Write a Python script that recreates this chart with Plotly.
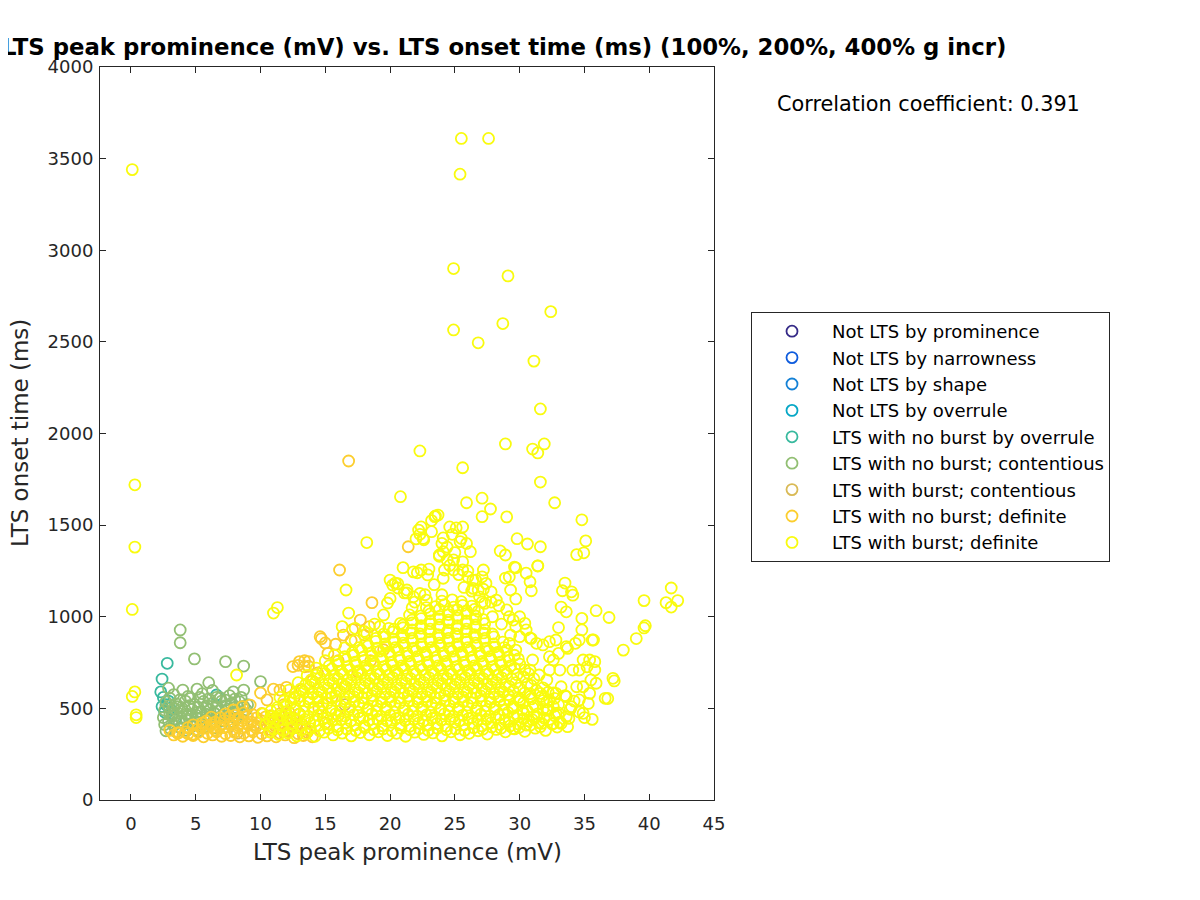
import plotly.graph_objects as go

# ---------------- data ----------------
series_names = [
    "Not LTS by prominence",
    "Not LTS by narrowness",
    "Not LTS by shape",
    "Not LTS by overrule",
    "LTS with no burst by overrule",
    "LTS with no burst; contentious",
    "LTS with burst; contentious",
    "LTS with no burst; definite",
    "LTS with burst; definite",
]
series_colors = ["#352a87", "#0f5cdd", "#1481d6", "#06a7c6", "#38b99e",
                 "#92bf73", "#d9ba56", "#fcce2e", "#f9fb0e"]

not_lts_prominence = []
not_lts_narrowness = []
not_lts_shape = []
not_lts_overrule = []

nb_overrule = [(2.8, 746), (2.4, 660), (2.5, 560), (2.7, 520), (3.0, 500), (2.6, 480),
               (3.2, 470), (2.9, 540), (6.6, 573), (3.4, 440), (2.4, 510), (2.3, 590)]

nb_contentious = [
    (3.8, 928), (3.8, 858), (4.9, 770), (7.3, 755), (8.7, 731), (10.0, 646), (5.1, 605),
    (6.3, 598), (7.9, 590), (8.7, 600), (6.0, 640), (4.0, 600), (2.9, 610),
    (3.3, 575), (4.4, 565), (5.5, 580), (6.6, 560), (7.6, 570), (8.5, 560),
    (2.7, 535), (3.5, 525), (4.2, 540), (4.9, 522), (5.6, 538), (6.3, 528), (7.0, 540),
    (7.7, 525), (8.4, 535), (9.0, 520),
    (2.6, 490), (3.3, 498), (4.0, 485), (4.7, 495), (5.4, 482), (6.1, 492), (6.8, 488),
    (7.5, 496), (8.2, 484), (8.9, 492),
    (2.5, 450), (3.2, 458), (3.9, 445), (4.6, 455), (5.3, 442), (6.0, 452), (6.7, 446),
    (7.4, 456), (8.1, 444),
    (2.6, 412), (3.3, 405), (4.0, 418), (4.7, 402), (5.4, 414), (6.1, 408), (7.0, 412),
    (2.7, 378), (3.5, 372), (4.3, 380), (5.2, 376),
    (3.0, 470), (3.6, 510), (4.3, 470), (2.9, 430), (5.0, 465), (5.8, 505), (6.5, 470),
    (3.0, 555), (3.8, 548), (4.6, 555), (5.3, 560), (6.0, 552), (6.9, 558), (7.3, 545),
    (8.0, 550), (2.9, 512), (3.9, 505), (4.5, 515), (5.2, 505), (5.9, 515), (6.6, 508),
    (7.3, 515), (8.0, 505), (8.7, 512), (3.6, 475), (4.4, 465), (5.1, 478),
    (5.8, 468), (6.4, 476), (7.2, 470), (7.9, 475), (8.6, 468), (3.7, 425),
    (4.3, 435), (5.0, 425), (5.7, 432), (6.4, 428), (7.1, 432), (7.8, 428), (3.0, 392),
    (3.8, 395), (4.5, 390), (5.6, 395), (6.5, 395),
]

b_contentious = [(9.5, 410), (13.0, 470), (16.5, 520), (8.2, 365)]

nb_definite = [
    (3.3, 355), (4.0, 348), (4.8, 352), (5.6, 345), (6.3, 355), (7.0, 348), (7.7, 352),
    (8.4, 345), (9.1, 350), (9.8, 342), (10.5, 350), (11.2, 345), (11.9, 355), (12.6, 340),
    (13.3, 352), (14.0, 345),
    (4.4, 395), (5.1, 385), (5.8, 392), (6.5, 382), (7.2, 395), (7.9, 385), (8.6, 392),
    (9.3, 382), (10.0, 395), (10.7, 385), (11.4, 392), (12.1, 382), (12.8, 395), (13.5, 385),
    (5.8, 430), (6.5, 425), (7.2, 435), (7.9, 422), (8.6, 432), (9.3, 425), (10.0, 435),
    (10.7, 422), (11.4, 432), (12.1, 425), (12.8, 435),
    (7.3, 470), (8.0, 462), (8.7, 475), (9.4, 465), (10.1, 472), (10.8, 460), (11.5, 470),
    (12.2, 478),
    (3.7, 368), (4.4, 362), (5.2, 370), (5.9, 364), (6.6, 372), (7.3, 362), (8.0, 370),
    (8.7, 364), (9.4, 372), (10.1, 362), (10.8, 370), (11.5, 364), (12.2, 372), (12.9, 362),
    (13.6, 370),
    (4.8, 410), (5.5, 405), (6.2, 412), (6.9, 404), (7.6, 414), (8.3, 406), (9.0, 412),
    (9.7, 404), (10.4, 414), (11.1, 406), (11.8, 412), (12.5, 404), (13.2, 414),
    (6.2, 452), (6.9, 448), (7.6, 455), (8.3, 446), (9.0, 456), (9.7, 448), (10.4, 454),
    (11.1, 446), (11.8, 456), (12.5, 450),
    (7.9, 491), (8.6, 510), (9.2, 518), (10.5, 546), (10.0, 584), (11.0, 605), (11.5, 600),
    (12.0, 615), (12.5, 728), (13.0, 755), (13.7, 730), (13.4, 760), (14.4, 693), (14.6, 891),
    (15.0, 857), (14.7, 880), (13.4, 727), (13.7, 755), (16.1, 1255), (16.8, 1850),
    (18.6, 1077), (21.4, 1382), (17.7, 982), (18.4, 946), (12.9, 735), (15.2, 800),
    (15.8, 850), (16.4, 900), (17.1, 930), (18.0, 900), (17.0, 870), (16.0, 760), (14.0, 650),
    (13.2, 600), (12.6, 560), (11.8, 520),
    (14.5, 500), (15.5, 560), (16.5, 620), (17.5, 700), (18.5, 760), (19.5, 820), (15.0, 420),
    (16.0, 460), (3.0, 380), (3.6, 365), (4.2, 372), (4.8, 360), (6.3, 396), (5.5, 420),
]

b_definite = [
    # isolated points
    (0.1, 3440), (0.3, 1720), (0.3, 1380), (0.1, 1040), (0.1, 565), (0.3, 590), (0.4, 465),
    (0.4, 450), (25.5, 3610), (27.6, 3610), (25.4, 3415), (24.9, 2900), (29.1, 2860),
    (28.7, 2600), (32.4, 2665), (24.9, 2565), (26.8, 2495), (31.1, 2395), (31.6, 2134),
    (28.9, 1943), (31.0, 1915), (31.9, 1943), (31.4, 1894), (22.3, 1905), (25.6, 1813),
    (31.6, 1735), (20.8, 1655), (25.9, 1622), (27.1, 1647), (27.75, 1588), (27.1, 1546),
    (29.0, 1545), (32.7, 1622), (34.8, 1529), (35.1, 1414), (34.4, 1339), (34.95, 1349),
    (29.8, 1426), (30.6, 1397), (31.6, 1382), (31.4, 1278), (28.5, 1359), (28.9, 1337),
    (29.7, 1267), (30.5, 1238), (30.8, 1191), (30.9, 1142), (28.9, 1211), (29.3, 1146),
    (29.7, 1097), (33.5, 1184), (33.3, 1142), (34.1, 1118), (34.0, 1136), (33.2, 1053),
    (33.6, 1027), (35.9, 1033), (36.9, 996), (39.6, 1088), (41.7, 1157), (41.3, 1077),
    (42.2, 1088), (41.7, 1053), (38.0, 818), (39.0, 881), (39.6, 939), (39.7, 951),
    (36.8, 554), (37.2, 664), (37.3, 650), (35.6, 873), (34.8, 991), (33.0, 941),
    (29.6, 1271), (31.4, 1277), (29.2, 1217), (18.2, 1405), (11.0, 1020), (11.3, 1050),
    (16.6, 1146), (16.8, 1020), (20.2, 1173), (19.8, 1075), (8.15, 682), (23.5, 1550),
    (23.2, 1525), (22.4, 1490), (24.6, 1490), (25.1, 1485), (22.6, 1420), (22.0, 1425),
    (22.3, 1450),
    # upper extension of the cloud
    (21.0, 1268), (21.8, 1245), (22.4, 1255), (22.9, 1228), (20.4, 1184), (20.6, 1157),
    (21.1, 1130), (21.7, 1049), (23.45, 1546), (23.7, 1555), (23.2, 1464), (22.55, 1427),
    (22.2, 1473), (25.6, 1490), (25.5, 1427), (25.9, 1400), (26.2, 1355), (24.0, 1400),
    (24.1, 1355), (23.8, 1337), (24.4, 1310), (24.9, 1310), (24.2, 1255), (24.9, 1255),
    (27.2, 1255), (27.1, 1218), (27.4, 1182), (26.8, 1146), (27.8, 1136), (28.2, 1091),
    (25.6, 1255), (26.0, 1218), (26.4, 1200), (26.4, 1155), (26.9, 1109), (27.3, 1073),
    (20.0, 1200), (21.3, 1146), (21.8, 1109), (22.3, 1127), (22.8, 1091), (16.3, 946),
    (17.3, 937), (18.2, 909), (19.2, 946), (19.9, 937), (20.8, 964),
    (20.6, 1180), (21.3, 1130), (20.0, 1100), (21.9, 1080), (22.7, 1120), (23.4, 1175),
    (22.1, 1240), (23.0, 1260), (24.1, 1210), (24.6, 1280), (25.3, 1230), (23.8, 1330),
    (24.4, 1380), (25.0, 1350), (25.6, 1300), (24.1, 1430), (24.8, 1450), (25.4, 1410),
    (26.0, 1250), (26.6, 1200), (27.2, 1150), (26.3, 1140), (25.7, 1160), (24.0, 1120),
    (22.8, 1050), (21.5, 1010), (27.8, 1080), (27.9, 1000), (28.6, 960), (29.3, 900),
    (29.2, 1000), (28.4, 1060), (27.1, 1080), (26.8, 1030), (19.5, 1010), (18.8, 960),
    (18.0, 920), (17.3, 870), (16.5, 830), (15.7, 790), (15.0, 760), (14.3, 720),
    (13.6, 680), (12.9, 640), (12.2, 600), (11.5, 560),
    # sparse right-hand part
    (34.8, 928), (35.7, 873), (31.8, 846), (32.3, 864), (32.8, 873), (33.6, 837),
    (34.3, 855), (34.6, 873), (35.9, 637), (35.4, 764), (35.8, 755), (34.9, 764),
    (34.6, 709), (35.2, 727), (34.9, 618), (35.4, 582), (35.3, 527), (34.9, 473),
    (33.1, 709), (32.6, 764), (33.0, 800), (33.7, 827), (33.2, 618), (33.6, 564),
    (34.0, 509), (33.6, 455), (33.2, 418), (33.7, 400), (31.3, 855), (30.8, 884),
    (32.3, 782), (32.3, 709), (31.0, 764), (30.8, 709), (31.5, 682), (32.1, 655),
    (31.6, 582), (32.3, 546), (32.8, 582), (32.1, 491), (31.3, 455), (32.8, 473),
    (31.7, 418), (32.6, 418), (30.5, 409), (29.5, 391), (31.0, 437), (34.1, 709),
    (34.4, 618), (34.6, 546), (35.5, 655), (35.8, 709), (30.8, 564), (30.0, 546),
    (29.5, 509), (30.3, 473), (29.7, 818), (29.2, 855), (30.0, 891), (30.5, 928),
    (30.9, 881), (29.0, 1037), (29.5, 982), (30.0, 1000), (30.4, 964), (29.7, 946),
    (35.0, 450), (35.6, 440), (36.6, 555),
    # dense core
    (10.7, 372), (11.4, 358), (12.1, 366), (12.8, 350), (13.5, 362), (14.2, 348), (14.9, 370),
    (15.6, 355), (16.3, 365), (17.0, 350), (17.7, 368), (18.4, 356), (19.1, 372), (19.8, 352),
    (20.5, 364), (21.2, 348), (21.9, 370), (22.6, 358), (23.3, 366), (24.0, 350), (24.7, 372),
    (25.4, 356), (26.1, 364), (26.8, 378), (27.5, 360), (28.2, 385), (28.9, 372), (29.6, 388),
    (30.4, 375), (31.2, 392), (32.0, 380), (32.9, 398),
    (11.0, 388), (11.75, 380), (12.45, 392), (13.15, 384), (13.85, 390), (14.55, 378),
    (15.25, 392), (15.95, 382), (16.65, 388), (17.35, 380), (18.05, 394), (18.75, 384),
    (19.45, 388), (20.15, 378), (20.85, 392), (21.55, 384), (22.25, 390), (22.95, 380),
    (23.65, 392), (24.35, 384), (25.05, 388), (25.75, 380), (26.45, 394), (27.15, 386),
    (27.85, 398), (28.55, 392), (29.25, 404), (29.95, 396), (30.8, 408), (31.6, 400),
    (32.5, 415),
    (10.4, 412), (11.0, 425), (11.7, 405), (12.4, 418), (13.1, 402), (13.8, 420), (14.5, 408),
    (15.2, 415), (15.9, 400), (16.6, 422), (17.3, 410), (18.0, 404), (18.7, 418), (19.4, 406),
    (20.1, 424), (20.8, 410), (21.5, 402), (22.2, 420), (22.9, 408), (23.6, 416), (24.3, 402),
    (25.0, 424), (25.7, 410), (26.4, 418), (27.1, 404), (27.8, 422), (28.5, 412), (29.2, 428),
    (29.9, 415), (30.7, 432), (31.5, 420), (32.3, 440), (33.1, 425), (33.8, 445),
    (10.7, 440), (11.35, 432), (12.05, 444), (12.75, 434), (13.45, 440), (14.15, 430),
    (14.85, 444), (15.55, 436), (16.25, 440), (16.95, 430), (17.65, 446), (18.35, 434),
    (19.05, 440), (19.75, 432), (20.45, 444), (21.15, 434), (21.85, 440), (22.55, 430),
    (23.25, 446), (23.95, 436), (24.65, 440), (25.35, 432), (26.05, 444), (26.75, 434),
    (27.45, 440), (28.15, 448), (28.85, 438), (29.55, 452), (30.3, 444), (31.1, 455),
    (31.9, 446), (32.7, 460),
    (10.2, 470), (10.9, 455), (11.6, 462), (12.3, 450), (13.0, 468), (13.7, 456), (14.4, 462),
    (15.1, 450), (15.8, 470), (16.5, 458), (17.2, 464), (17.9, 452), (18.6, 470), (19.3, 456),
    (20.0, 462), (20.7, 450), (21.4, 468), (22.1, 458), (22.8, 464), (23.5, 452), (24.2, 470),
    (24.9, 456), (25.6, 462), (26.3, 450), (27.0, 468), (27.7, 458), (28.4, 464), (29.1, 478),
    (29.8, 462), (30.6, 485), (31.4, 470), (32.2, 490), (33.0, 475), (33.9, 495), (34.6, 480),
    (10.8, 485), (11.3, 492), (11.95, 480), (12.65, 490), (13.35, 482), (14.05, 494),
    (14.75, 480), (15.45, 488), (16.15, 484), (16.85, 494), (17.55, 480), (18.25, 490),
    (18.95, 484), (19.65, 494), (20.35, 480), (21.05, 488), (21.75, 484), (22.45, 494),
    (23.15, 480), (23.85, 490), (24.55, 484), (25.25, 494), (25.95, 480), (26.65, 488),
    (27.35, 484), (28.05, 494), (28.75, 490), (29.45, 500), (30.2, 492), (31.0, 505),
    (31.8, 495), (32.6, 510),
    (11.3, 505), (12.0, 518), (12.7, 500), (13.4, 512), (14.1, 506), (14.8, 520), (15.5, 502),
    (16.2, 514), (16.9, 508), (17.6, 520), (18.3, 500), (19.0, 515), (19.7, 506), (20.4, 518),
    (21.1, 502), (21.8, 512), (22.5, 508), (23.2, 520), (23.9, 500), (24.6, 515), (25.3, 506),
    (26.0, 518), (26.7, 502), (27.4, 514), (28.1, 508), (28.8, 522), (29.5, 512), (30.3, 530),
    (31.2, 515), (32.1, 535), (33.0, 520), (34.2, 540),
    (11.8, 540), (12.35, 530), (13.05, 542), (13.75, 532), (14.45, 538), (15.15, 528),
    (15.85, 542), (16.55, 534), (17.25, 538), (17.95, 528), (18.65, 544), (19.35, 532),
    (20.05, 538), (20.75, 530), (21.45, 542), (22.15, 532), (22.85, 538), (23.55, 528),
    (24.25, 544), (24.95, 534), (25.65, 538), (26.35, 530), (27.05, 542), (27.75, 532),
    (28.45, 540), (29.2, 548), (30.0, 538), (30.9, 552), (31.8, 542), (32.7, 555),
    (12.3, 558), (13.0, 566), (13.7, 552), (14.4, 562), (15.1, 556), (15.8, 568), (16.5, 552),
    (17.2, 564), (17.9, 558), (18.6, 570), (19.3, 552), (20.0, 562), (20.7, 556), (21.4, 568),
    (22.1, 552), (22.8, 564), (23.5, 558), (24.2, 570), (24.9, 552), (25.6, 562), (26.3, 556),
    (27.0, 568), (27.7, 552), (28.4, 564), (29.1, 575), (29.9, 560), (30.8, 580), (31.7, 565),
    (32.6, 585), (33.5, 570),
    (12.7, 582), (13.35, 590), (14.05, 578), (14.75, 588), (15.45, 582), (16.15, 592),
    (16.85, 578), (17.55, 586), (18.25, 582), (18.95, 592), (19.65, 578), (20.35, 588),
    (21.05, 582), (21.75, 592), (22.45, 578), (23.15, 588), (23.85, 582), (24.55, 592),
    (25.25, 578), (25.95, 588), (26.65, 582), (27.35, 592), (28.05, 578), (28.75, 588),
    (29.5, 596), (30.4, 585), (31.3, 598), (32.2, 588),
    (13.1, 605), (13.8, 616), (14.5, 602), (15.2, 612), (15.9, 606), (16.6, 618), (17.3, 602),
    (18.0, 614), (18.7, 606), (19.4, 618), (20.1, 602), (20.8, 612), (21.5, 606), (22.2, 618),
    (22.9, 602), (23.6, 614), (24.3, 606), (25.0, 618), (25.7, 602), (26.4, 612), (27.1, 606),
    (27.8, 618), (28.5, 604), (29.2, 620), (30.0, 610), (30.9, 625), (31.8, 612),
    (13.5, 632), (14.2, 640), (14.9, 628), (15.6, 638), (16.3, 632), (17.0, 642), (17.7, 628),
    (18.4, 636), (19.1, 632), (19.8, 642), (20.5, 628), (21.2, 638), (21.9, 632), (22.6, 642),
    (23.3, 628), (24.0, 636), (24.7, 632), (25.4, 642), (26.1, 628), (26.8, 638), (27.5, 632),
    (28.2, 642), (28.9, 630), (29.7, 640), (30.6, 634),
    (13.9, 655), (14.6, 668), (15.3, 652), (16.0, 662), (16.7, 656), (17.4, 668), (18.1, 652),
    (18.8, 664), (19.5, 656), (20.2, 668), (20.9, 652), (21.6, 662), (22.3, 656), (23.0, 668),
    (23.7, 652), (24.4, 664), (25.1, 656), (25.8, 668), (26.5, 652), (27.2, 662), (27.9, 656),
    (28.6, 668), (29.4, 660), (30.3, 672), (31.1, 662),
    (14.3, 682), (15.0, 690), (15.7, 678), (16.4, 688), (17.1, 682), (17.8, 692), (18.5, 678),
    (19.2, 686), (19.9, 682), (20.6, 692), (21.3, 678), (22.0, 688), (22.7, 682), (23.4, 692),
    (24.1, 678), (24.8, 686), (25.5, 682), (26.2, 692), (26.9, 678), (27.6, 688), (28.3, 682),
    (29.0, 692), (29.8, 684), (30.7, 690),
    (14.8, 705), (15.5, 716), (16.2, 702), (16.9, 712), (17.6, 706), (18.3, 718), (19.0, 702),
    (19.7, 714), (20.4, 706), (21.1, 718), (21.8, 702), (22.5, 712), (23.2, 706), (23.9, 718),
    (24.6, 702), (25.3, 714), (26.0, 706), (26.7, 718), (27.4, 702), (28.1, 712), (28.8, 706),
    (29.6, 720), (30.4, 710),
    (15.3, 732), (16.0, 740), (16.7, 728), (17.4, 738), (18.1, 732), (18.8, 742), (19.5, 728),
    (20.2, 736), (20.9, 732), (21.6, 742), (22.3, 728), (23.0, 738), (23.7, 732), (24.4, 742),
    (25.1, 728), (25.8, 736), (26.5, 732), (27.2, 742), (27.9, 728), (28.6, 738), (29.3, 732),
    (30.0, 742),
    (15.9, 755), (16.6, 766), (17.3, 752), (18.0, 762), (18.7, 756), (19.4, 768), (20.1, 752),
    (20.8, 764), (21.5, 756), (22.2, 768), (22.9, 752), (23.6, 762), (24.3, 756), (25.0, 768),
    (25.7, 752), (26.4, 764), (27.1, 756), (27.8, 768), (28.5, 752), (29.2, 762), (29.9, 770),
    (16.5, 782), (17.2, 790), (17.9, 778), (18.6, 788), (19.3, 782), (20.0, 792), (20.7, 778),
    (21.4, 786), (22.1, 782), (22.8, 792), (23.5, 778), (24.2, 788), (24.9, 782), (25.6, 792),
    (26.3, 778), (27.0, 786), (27.7, 782), (28.4, 792), (29.1, 780), (29.6, 790),
    (17.1, 805), (17.8, 816), (18.5, 802), (19.2, 812), (19.9, 806), (20.6, 818), (21.3, 802),
    (22.0, 814), (22.7, 806), (23.4, 818), (24.1, 802), (24.8, 812), (25.5, 806), (26.2, 818),
    (26.9, 802), (27.6, 814), (28.3, 806), (29.0, 818),
    (17.6, 832), (18.3, 840), (19.0, 828), (19.7, 838), (20.4, 832), (21.1, 842), (21.8, 828),
    (22.5, 836), (23.2, 832), (23.9, 842), (24.6, 828), (25.3, 838), (26.0, 832), (26.7, 842),
    (27.4, 828), (28.1, 836), (28.8, 832),
    (18.2, 855), (18.9, 866), (19.6, 852), (20.3, 862), (21.0, 856), (21.7, 868), (22.4, 852),
    (23.1, 864), (23.8, 856), (24.5, 868), (25.2, 852), (25.9, 862), (26.6, 856), (27.3, 868),
    (28.0, 852), (28.7, 862),
    (18.9, 882), (19.6, 890), (20.3, 878), (21.0, 888), (21.7, 882), (22.4, 892), (23.1, 878),
    (23.8, 886), (24.5, 882), (25.2, 892), (25.9, 878), (26.6, 888), (27.3, 882), (28.0, 890),
    (19.5, 905), (20.2, 916), (20.9, 902), (21.6, 912), (22.3, 906), (23.0, 918), (23.7, 902),
    (24.4, 914), (25.1, 906), (25.8, 918), (26.5, 902), (27.2, 912), (27.9, 906),
    (20.3, 932), (21.0, 940), (21.7, 928), (22.4, 938), (23.1, 932), (23.8, 942), (24.5, 928),
    (25.2, 936), (25.9, 932), (26.6, 942), (27.3, 928),
    (21.0, 955), (21.7, 966), (22.4, 952), (23.1, 962), (23.8, 956), (24.5, 968), (25.2, 952),
    (25.9, 964), (26.6, 956), (27.3, 962),
    (21.7, 982), (22.4, 990), (23.1, 978), (23.8, 988), (24.5, 982), (25.2, 992), (25.9, 978),
    (26.6, 988), (27.2, 984),
    (22.4, 1005), (23.1, 1016), (23.8, 1002), (24.5, 1012), (25.2, 1006), (25.9, 1018),
    (26.6, 1004),
    (23.0, 1032), (23.8, 1040), (24.5, 1028), (25.2, 1038), (25.9, 1032), (26.5, 1040),
    (23.5, 1055), (24.2, 1066), (24.9, 1052), (25.6, 1062), (26.3, 1058),
    (24.0, 1085), (24.8, 1092), (25.5, 1082),
]

all_series = [not_lts_prominence, not_lts_narrowness, not_lts_shape, not_lts_overrule,
              nb_overrule, nb_contentious, b_contentious, nb_definite, b_definite]

x_ticks = [0, 5, 10, 15, 20, 25, 30, 35, 40, 45]
y_ticks = [0, 500, 1000, 1500, 2000, 2500, 3000, 3500, 4000]
corr_text = "Correlation coefficient: 0.391"
title_text = "LTS peak prominence (mV) vs. LTS onset time (ms) (100%, 200%, 400% g incr)"

# ---------------- figure ----------------
FONT = "DejaVu Sans"
AX = "#262626"
fig = go.Figure()
for name, col, pts in zip(series_names, series_colors, all_series):
    xs = [p[0] for p in pts] if pts else [None]
    ys = [p[1] for p in pts] if pts else [None]
    fig.add_trace(go.Scatter(
        x=xs, y=ys, mode="markers", name=name,
        marker=dict(symbol="circle-open", size=11, color=col, line=dict(width=1.8, color=col)),
    ))

axis_common = dict(showgrid=False, zeroline=False, showline=True, linecolor=AX, linewidth=1,
                   mirror="ticks", ticks="inside", ticklen=6, tickwidth=1, tickcolor=AX,
                   tickfont=dict(family=FONT, size=18, color=AX))

# page body has an 8px margin, so the plot area (100..714, 67..800 on screen) is offset
fig.update_layout(
    width=1200, height=900,
    paper_bgcolor="white", plot_bgcolor="white",
    margin=dict(l=92, r=494, t=59, b=108),
    font=dict(family=FONT, color=AX),
    xaxis=dict(range=[-2.39, 45], tickvals=x_ticks, ticklabelstandoff=7, **axis_common),
    yaxis=dict(range=[0, 4000], tickvals=y_ticks, ticklabelstandoff=2, **axis_common),
    showlegend=True,
    legend=dict(x=(751 - 100) / 614, y=(800 - 312) / 733, xanchor="left", yanchor="top",
                bordercolor="#262626", borderwidth=1, bgcolor="white",
                font=dict(family=FONT, size=18, color="#000000"),
                itemwidth=70, tracegroupgap=0),
    annotations=[
        dict(text="<b>" + title_text + "</b>", xref="paper", yref="paper",
             x=(504 - 100) / 614, y=(800 - 47) / 733, xanchor="center", yanchor="middle",
             showarrow=False, font=dict(family=FONT, size=22.8, color="#000000")),
        dict(text=corr_text, xref="paper", yref="paper",
             x=(775 - 100) / 614, y=(800 - 104) / 733, xanchor="left", yanchor="middle",
             showarrow=False, font=dict(family=FONT, size=20.8, color="#000000")),
        dict(text="LTS peak prominence (mV)", xref="paper", yref="paper",
             x=(407 - 100) / 614, y=(800 - 852) / 733, xanchor="center", yanchor="middle",
             showarrow=False, font=dict(family=FONT, size=23, color=AX)),
        dict(text="LTS onset time (ms)", xref="paper", yref="paper", textangle=-90,
             x=(20 - 100) / 614, y=(800 - 433) / 733, xanchor="center", yanchor="middle",
             showarrow=False, font=dict(family=FONT, size=23, color=AX)),
    ],
)

fig.write_html("out.html")
